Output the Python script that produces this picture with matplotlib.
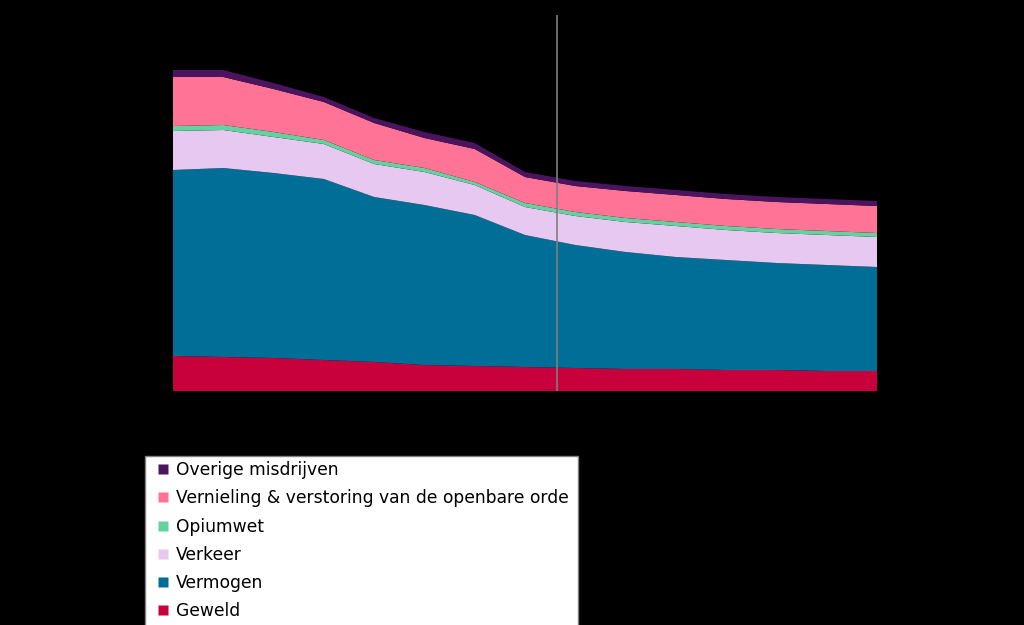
import numpy as np
import matplotlib
matplotlib.use('Agg')
from matplotlib import pyplot as plt
from matplotlib.lines import Line2D

# jaren (categorie-as, geen labels zichtbaar in de grafiek)
jaren = np.arange(2007, 2022)

# aantallen per categorie (geschat uit de figuur)
geweld = [35, 34, 33, 31, 29, 26, 25, 24, 23, 22, 22, 21, 21, 20, 20]
vermogen = [186, 189, 185, 181, 165, 160, 151, 132, 123, 117, 112, 110, 107, 106, 104]
verkeer = [39, 38, 36, 35, 33, 33, 30, 28, 29, 30, 31, 30, 30, 30, 30]
opiumwet = [5, 5, 5, 4, 4, 4, 3, 4, 4, 4, 4, 4, 4, 4, 4]
vernieling = [49, 48, 43, 38, 37, 30, 33, 26, 26, 27, 27, 27, 27, 27, 27]
overige = [7, 7, 6, 5, 5, 6, 6, 5, 5, 5, 5, 5, 5, 5, 5]

namen = ['Geweld', 'Vermogen', 'Verkeer', 'Opiumwet',
         'Vernieling & verstoring van de openbare orde', 'Overige misdrijven']
kleuren = ['#C8003C', '#006E96', '#E6C8F0', '#64D2A0', '#FF7396', '#4B145F']

# begin van de prognose
prognose_start = 2014.64

fig = plt.figure(figsize=(10.24, 6.25), dpi=100, facecolor='black')
ax = fig.add_axes([173/1024, 1-391/625, 704/1024, 376/625])
ax.set_facecolor('black')

ax.stackplot(jaren, geweld, vermogen, verkeer, opiumwet, vernieling, overige,
             colors=kleuren, lw=0)
ax.axvline(prognose_start, color='#7F7F7F', lw=1.2)

ax.set_xlim(jaren[0], jaren[-1])
ax.set_ylim(0, 376)
ax.set_xticks([])
ax.set_yticks([])
for s in ax.spines.values():
    s.set_visible(False)

# legenda in omgekeerde volgorde, vierkante markers
handles = [Line2D([], [], ls='none', marker='s', ms=7, mfc=c, mec='none')
           for c in kleuren][::-1]
leg = fig.legend(handles, namen[::-1], loc='upper left',
                 bbox_to_anchor=(145/1024, 0, 433/1024, 1-456/625), mode='expand',
                 fontsize=12.3, frameon=True, fancybox=False, framealpha=1,
                 handlelength=1.5, handletextpad=0.0,
                 labelspacing=0.6, borderpad=0.3, borderaxespad=0)
leg.get_frame().set_edgecolor('#808080')
leg.get_frame().set_facecolor('white')

fig.savefig('out.png', dpi=100, facecolor='black')
